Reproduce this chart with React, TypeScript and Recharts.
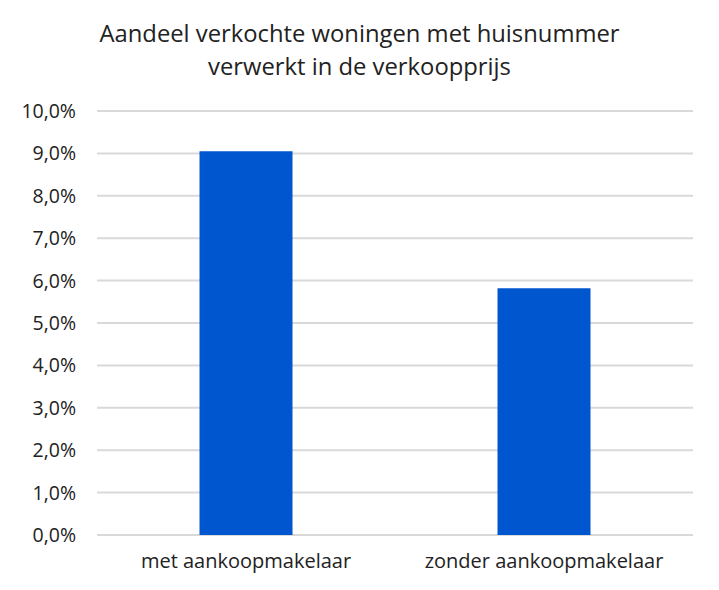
import React from "react";
import { BarChart, Bar, XAxis, YAxis, CartesianGrid } from "recharts";

const categories = ["met aankoopmakelaar", "zonder aankoopmakelaar"];
const shareValues = [9.05, 5.82];
const yTicks = [0, 1, 2, 3, 4, 5, 6, 7, 8, 9, 10];
const titleLines = ["Aandeel verkochte woningen met huisnummer", "verwerkt in de verkoopprijs"];

const data = categories.map((c, i) => ({ name: c, value: shareValues[i] }));

const FONT = "'Open Sans', sans-serif";
const TEXT = "#222222";

const fmt = (v: number) => v.toFixed(1).replace(".", ",") + "%";

export default function App() {
  return (
    <div style={{ position: "absolute", left: 0, top: 0, width: 719, height: 590, background: "#fff", fontFamily: FONT }}>
      <div
        style={{
          position: "absolute",
          left: 0,
          top: 17,
          width: 719,
          textAlign: "center",
          fontSize: 23.8,
          lineHeight: "33px",
          color: TEXT,
        }}
      >
        {titleLines.map((l) => (
          <div key={l}>{l}</div>
        ))}
      </div>
      <BarChart
        width={719}
        height={590}
        data={data}
        margin={{ top: 111, right: 26, bottom: 25, left: 0 }}
        barCategoryGap="34.4%"
      >
        <CartesianGrid vertical={false} stroke="#d9d9d9" strokeWidth={2} />
        <XAxis
          dataKey="name"
          axisLine={false}
          tickLine={false}
          tickMargin={13}
          height={30}
          tick={{ fill: TEXT, fontSize: 20, fontFamily: FONT }}
        />
        <YAxis
          width={97}
          domain={[0, 10]}
          ticks={yTicks}
          interval={0}
          axisLine={false}
          tickLine={false}
          tickMargin={15}
          tickFormatter={fmt}
          tick={{ fill: TEXT, fontSize: 19.5, fontFamily: FONT }}
        />
        <Bar dataKey="value" fill="#0056CE" isAnimationActive={false} />
      </BarChart>
    </div>
  );
}
